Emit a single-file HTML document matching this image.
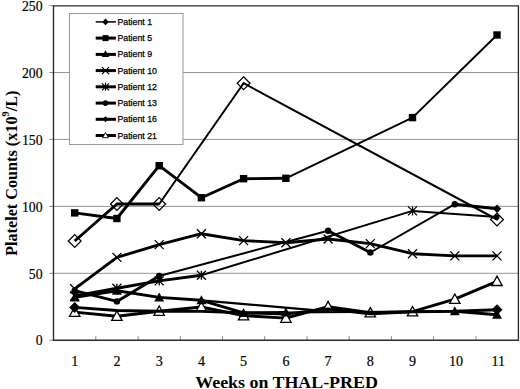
<!DOCTYPE html>
<html><head><meta charset="utf-8"><style>
html,body{margin:0;padding:0;background:#fff;}
svg{display:block;}
.tk{font-family:"Liberation Serif",serif;font-size:15.5px;fill:#000;stroke:#000;stroke-width:0.2px;}
.ttl{font-family:"Liberation Serif",serif;font-size:16px;font-weight:bold;fill:#000;}
.lg{font-family:"Liberation Sans",sans-serif;font-size:8.8px;fill:#000;stroke:#000;stroke-width:0.25px;}
</style></head><body>
<svg width="520" height="389" viewBox="0 0 520 389">
<rect width="520" height="389" fill="#fff"/>
<line x1="53.6" y1="273.3" x2="518.1" y2="273.3" stroke="#959595" stroke-width="1"/>
<line x1="53.6" y1="206.4" x2="518.1" y2="206.4" stroke="#959595" stroke-width="1"/>
<line x1="53.6" y1="139.4" x2="518.1" y2="139.4" stroke="#959595" stroke-width="1"/>
<line x1="53.6" y1="72.5" x2="518.1" y2="72.5" stroke="#959595" stroke-width="1"/>
<line x1="49.3" y1="340.2" x2="53.6" y2="340.2" stroke="#888" stroke-width="1"/>
<line x1="49.3" y1="273.3" x2="53.6" y2="273.3" stroke="#888" stroke-width="1"/>
<line x1="49.3" y1="206.4" x2="53.6" y2="206.4" stroke="#888" stroke-width="1"/>
<line x1="49.3" y1="139.4" x2="53.6" y2="139.4" stroke="#888" stroke-width="1"/>
<line x1="49.3" y1="72.5" x2="53.6" y2="72.5" stroke="#888" stroke-width="1"/>
<line x1="49.3" y1="5.6" x2="53.6" y2="5.6" stroke="#888" stroke-width="1"/>
<line x1="95.8" y1="336.2" x2="95.8" y2="340.2" stroke="#888" stroke-width="1"/>
<line x1="138.1" y1="336.2" x2="138.1" y2="340.2" stroke="#888" stroke-width="1"/>
<line x1="180.3" y1="336.2" x2="180.3" y2="340.2" stroke="#888" stroke-width="1"/>
<line x1="222.5" y1="336.2" x2="222.5" y2="340.2" stroke="#888" stroke-width="1"/>
<line x1="264.7" y1="336.2" x2="264.7" y2="340.2" stroke="#888" stroke-width="1"/>
<line x1="307.0" y1="336.2" x2="307.0" y2="340.2" stroke="#888" stroke-width="1"/>
<line x1="349.2" y1="336.2" x2="349.2" y2="340.2" stroke="#888" stroke-width="1"/>
<line x1="391.4" y1="336.2" x2="391.4" y2="340.2" stroke="#888" stroke-width="1"/>
<line x1="433.6" y1="336.2" x2="433.6" y2="340.2" stroke="#888" stroke-width="1"/>
<line x1="475.9" y1="336.2" x2="475.9" y2="340.2" stroke="#888" stroke-width="1"/>
<path d="M53.5 5.8H518.4V340.2H53.5Z" fill="none" stroke="#2a2a2a" stroke-width="1.35"/>
<rect x="69.5" y="13.5" width="113.5" height="131" fill="#fff" stroke="#999" stroke-width="1"/>
<path d="M74.7 312.1L116.9 316.2L159.2 311.2L201.4 307.0L243.6 315.7L285.9 318.1L328.1 306.6L370.3 312.8L412.5 311.7L454.8 299.2L497.0 281.3" fill="none" stroke="#000" stroke-width="2.9" stroke-linejoin="round"/>
<path d="M74.7 306.9L79.9 316.3L69.5 316.3Z" fill="#fff" stroke="#000" stroke-width="1.3"/>
<path d="M116.9 311.0L122.1 320.4L111.7 320.4Z" fill="#fff" stroke="#000" stroke-width="1.3"/>
<path d="M159.2 306.0L164.4 315.3L154.0 315.3Z" fill="#fff" stroke="#000" stroke-width="1.3"/>
<path d="M201.4 301.8L206.6 311.2L196.2 311.2Z" fill="#fff" stroke="#000" stroke-width="1.3"/>
<path d="M243.6 310.5L248.8 319.9L238.4 319.9Z" fill="#fff" stroke="#000" stroke-width="1.3"/>
<path d="M285.9 312.9L291.1 322.3L280.7 322.3Z" fill="#fff" stroke="#000" stroke-width="1.3"/>
<path d="M328.1 301.4L333.3 310.8L322.9 310.8Z" fill="#fff" stroke="#000" stroke-width="1.3"/>
<path d="M370.3 307.6L375.5 316.9L365.1 316.9Z" fill="#fff" stroke="#000" stroke-width="1.3"/>
<path d="M412.5 306.5L417.7 315.9L407.3 315.9Z" fill="#fff" stroke="#000" stroke-width="1.3"/>
<path d="M454.8 294.0L460.0 303.4L449.6 303.4Z" fill="#fff" stroke="#000" stroke-width="1.3"/>
<path d="M497.0 276.1L502.2 285.5L491.8 285.5Z" fill="#fff" stroke="#000" stroke-width="1.3"/>
<line x1="159.2" y1="204.0" x2="243.6" y2="83.2" stroke="#000" stroke-width="2.0" stroke-linecap="round"/>
<line x1="243.6" y1="83.2" x2="497.0" y2="219.5" stroke="#000" stroke-width="2.0" stroke-linecap="round"/>
<path d="M74.7 241.0L116.9 204.0L159.2 204.0" fill="none" stroke="#000" stroke-width="2.9" stroke-linejoin="round"/>
<line x1="285.9" y1="178.3" x2="412.5" y2="117.6" stroke="#000" stroke-width="2.0" stroke-linecap="round"/>
<line x1="412.5" y1="117.6" x2="497.0" y2="35.0" stroke="#000" stroke-width="2.0" stroke-linecap="round"/>
<path d="M74.7 212.9L116.9 218.5L159.2 165.7L201.4 197.7L243.6 178.7L285.9 178.3" fill="none" stroke="#000" stroke-width="2.9" stroke-linejoin="round"/>
<path d="M74.7 288.8L116.9 257.4L159.2 244.6L201.4 233.7L243.6 240.6L285.9 242.8L328.1 239.0L370.3 243.6L412.5 253.7L454.8 255.9L497.0 255.9" fill="none" stroke="#000" stroke-width="2.9" stroke-linejoin="round"/>
<line x1="159.2" y1="276.0" x2="328.1" y2="230.7" stroke="#000" stroke-width="2.0" stroke-linecap="round"/>
<line x1="370.3" y1="252.5" x2="454.8" y2="204.2" stroke="#000" stroke-width="2.0" stroke-linecap="round"/>
<path d="M74.7 290.7L116.9 301.4L159.2 276.0" fill="none" stroke="#000" stroke-width="2.9" stroke-linejoin="round"/>
<path d="M328.1 230.7L370.3 252.5" fill="none" stroke="#000" stroke-width="2.9" stroke-linejoin="round"/>
<path d="M454.8 204.2L497.0 208.8" fill="none" stroke="#000" stroke-width="2.9" stroke-linejoin="round"/>
<line x1="201.4" y1="275.2" x2="412.5" y2="210.9" stroke="#000" stroke-width="2.0" stroke-linecap="round"/>
<line x1="412.5" y1="210.9" x2="497.0" y2="216.9" stroke="#000" stroke-width="2.0" stroke-linecap="round"/>
<path d="M74.7 296.0L116.9 288.3L159.2 280.9L201.4 275.2" fill="none" stroke="#000" stroke-width="2.9" stroke-linejoin="round"/>
<line x1="285.9" y1="312.4" x2="454.8" y2="311.2" stroke="#000" stroke-width="2.0" stroke-linecap="round"/>
<path d="M74.7 297.4L116.9 290.7L159.2 297.4L201.4 300.3L243.6 312.9L285.9 312.4" fill="none" stroke="#000" stroke-width="2.9" stroke-linejoin="round"/>
<path d="M454.8 311.2L497.0 314.8" fill="none" stroke="#000" stroke-width="2.9" stroke-linejoin="round"/>
<path d="M74.7 307.4L116.9 310.5L159.2 311.3L201.4 311.4L243.6 312.8L285.9 314.1L328.1 309.0L370.3 313.7L412.5 311.7L454.8 311.2L497.0 309.7" fill="none" stroke="#000" stroke-width="2.9" stroke-linejoin="round"/>
<line x1="201.4" y1="300.3" x2="328.1" y2="311.4" stroke="#000" stroke-width="2.2" stroke-linecap="round"/>
<path d="M74.7 234.6L81.1 241.0L74.7 247.4L68.3 241.0Z" fill="none" stroke="#000" stroke-width="1.25"/>
<path d="M116.9 197.6L123.3 204.0L116.9 210.4L110.5 204.0Z" fill="none" stroke="#000" stroke-width="1.25"/>
<path d="M159.2 197.6L165.6 204.0L159.2 210.4L152.8 204.0Z" fill="none" stroke="#000" stroke-width="1.25"/>
<path d="M243.6 76.8L250.0 83.2L243.6 89.6L237.2 83.2Z" fill="none" stroke="#000" stroke-width="1.25"/>
<path d="M497.0 213.1L503.4 219.5L497.0 225.9L490.6 219.5Z" fill="none" stroke="#000" stroke-width="1.25"/>
<rect x="71.0" y="209.2" width="7.4" height="7.4" fill="#000"/>
<rect x="113.2" y="214.8" width="7.4" height="7.4" fill="#000"/>
<rect x="155.5" y="162.0" width="7.4" height="7.4" fill="#000"/>
<rect x="197.7" y="194.0" width="7.4" height="7.4" fill="#000"/>
<rect x="239.9" y="175.0" width="7.4" height="7.4" fill="#000"/>
<rect x="282.2" y="174.6" width="7.4" height="7.4" fill="#000"/>
<rect x="408.8" y="113.9" width="7.4" height="7.4" fill="#000"/>
<rect x="493.3" y="31.3" width="7.4" height="7.4" fill="#000"/>
<path d="M70.2 284.3L79.2 293.3M79.2 284.3L70.2 293.3" stroke="#000" stroke-width="1.3"/>
<path d="M112.4 252.9L121.4 261.9M121.4 252.9L112.4 261.9" stroke="#000" stroke-width="1.3"/>
<path d="M154.7 240.1L163.7 249.1M163.7 240.1L154.7 249.1" stroke="#000" stroke-width="1.3"/>
<path d="M196.9 229.2L205.9 238.2M205.9 229.2L196.9 238.2" stroke="#000" stroke-width="1.3"/>
<path d="M239.1 236.1L248.1 245.1M248.1 236.1L239.1 245.1" stroke="#000" stroke-width="1.3"/>
<path d="M281.4 238.3L290.4 247.3M290.4 238.3L281.4 247.3" stroke="#000" stroke-width="1.3"/>
<path d="M323.6 234.5L332.6 243.5M332.6 234.5L323.6 243.5" stroke="#000" stroke-width="1.3"/>
<path d="M365.8 239.1L374.8 248.1M374.8 239.1L365.8 248.1" stroke="#000" stroke-width="1.3"/>
<path d="M408.0 249.2L417.0 258.2M417.0 249.2L408.0 258.2" stroke="#000" stroke-width="1.3"/>
<path d="M450.3 251.4L459.3 260.4M459.3 251.4L450.3 260.4" stroke="#000" stroke-width="1.3"/>
<path d="M492.5 251.4L501.5 260.4M501.5 251.4L492.5 260.4" stroke="#000" stroke-width="1.3"/>
<circle cx="74.7" cy="290.7" r="3.2" fill="#000"/>
<circle cx="116.9" cy="301.4" r="3.2" fill="#000"/>
<circle cx="159.2" cy="276.0" r="3.2" fill="#000"/>
<circle cx="328.1" cy="230.7" r="3.2" fill="#000"/>
<circle cx="370.3" cy="252.5" r="3.2" fill="#000"/>
<circle cx="454.8" cy="204.2" r="3.2" fill="#000"/>
<path d="M497.0 204.6L501.2 208.8L497.0 213.0L492.8 208.8Z" fill="#000"/>
<path d="M70.2 291.5L79.2 300.5M79.2 291.5L70.2 300.5M74.7 291.5L74.7 300.5" stroke="#000" stroke-width="1.3"/>
<path d="M112.4 283.8L121.4 292.8M121.4 283.8L112.4 292.8M116.9 283.8L116.9 292.8" stroke="#000" stroke-width="1.3"/>
<path d="M154.7 276.4L163.7 285.4M163.7 276.4L154.7 285.4M159.2 276.4L159.2 285.4" stroke="#000" stroke-width="1.3"/>
<path d="M196.9 270.7L205.9 279.7M205.9 270.7L196.9 279.7M201.4 270.7L201.4 279.7" stroke="#000" stroke-width="1.3"/>
<path d="M408.0 206.4L417.0 215.4M417.0 206.4L408.0 215.4M412.5 206.4L412.5 215.4" stroke="#000" stroke-width="1.3"/>
<circle cx="497.0" cy="216.9" r="2.6" fill="#000"/>
<path d="M74.7 292.4L79.7 301.4L69.7 301.4Z" fill="#000"/>
<path d="M116.9 285.7L121.9 294.7L111.9 294.7Z" fill="#000"/>
<path d="M159.2 292.4L164.2 301.4L154.2 301.4Z" fill="#000"/>
<path d="M201.4 295.3L206.4 304.3L196.4 304.3Z" fill="#000"/>
<path d="M243.6 307.9L248.6 316.9L238.6 316.9Z" fill="#000"/>
<path d="M285.9 307.4L290.9 316.4L280.9 316.4Z" fill="#000"/>
<path d="M454.8 306.2L459.8 315.2L449.8 315.2Z" fill="#000"/>
<path d="M497.0 309.8L502.0 318.8L492.0 318.8Z" fill="#000"/>
<path d="M74.7 301.9L80.2 307.4L74.7 312.9L69.2 307.4Z" fill="#000"/>









<path d="M497.0 304.2L502.5 309.7L497.0 315.2L491.5 309.7Z" fill="#000"/>
<line x1="95.7" y1="21.9" x2="115.9" y2="21.9" stroke="#000" stroke-width="1.5"/>
<path d="M105.5 18.6L108.8 21.9L105.5 25.2L102.2 21.9Z"/>
<text x="117.4" y="24.9" class="lg">Patient 1</text>
<line x1="95.7" y1="38.1" x2="115.9" y2="38.1" stroke="#000" stroke-width="3"/>
<rect x="102.5" y="35.1" width="6" height="6"/>
<text x="117.4" y="41.1" class="lg">Patient 5</text>
<line x1="95.7" y1="54.4" x2="115.9" y2="54.4" stroke="#000" stroke-width="3"/>
<path d="M105.5 50.2L109.3 56.9L101.7 56.9Z"/>
<text x="117.4" y="57.4" class="lg">Patient 9</text>
<line x1="95.7" y1="70.6" x2="115.9" y2="70.6" stroke="#000" stroke-width="3"/>
<path d="M102.0 67.1L109.0 74.1M109.0 67.1L102.0 74.1" stroke="#000" stroke-width="1.2"/>
<text x="117.4" y="73.6" class="lg">Patient 10</text>
<line x1="95.7" y1="86.8" x2="115.9" y2="86.8" stroke="#000" stroke-width="3"/>
<path d="M102.0 83.3L109.0 90.3M109.0 83.3L102.0 90.3M105.5 82.8L105.5 90.8" stroke="#000" stroke-width="1.2"/>
<text x="117.4" y="89.8" class="lg">Patient 12</text>
<line x1="95.7" y1="103.1" x2="115.9" y2="103.1" stroke="#000" stroke-width="3"/>
<circle cx="105.5" cy="103.1" r="2.8"/>
<text x="117.4" y="106.1" class="lg">Patient 13</text>
<line x1="95.7" y1="119.3" x2="115.9" y2="119.3" stroke="#000" stroke-width="3"/>
<path d="M105.5 116.3L108.5 119.3L105.5 122.3L102.5 119.3Z"/>
<text x="117.4" y="122.3" class="lg">Patient 16</text>
<line x1="95.7" y1="135.5" x2="115.9" y2="135.5" stroke="#000" stroke-width="3"/>
<path d="M105.5 132.5L108.5 137.7L102.5 137.7Z" fill="#fff" stroke="#000" stroke-width="0.9"/>
<text x="117.4" y="138.5" class="lg">Patient 21</text>
<text transform="translate(42.6 345.4) scale(0.89 1)" class="tk" text-anchor="end">0</text>
<text transform="translate(42.6 278.5) scale(0.89 1)" class="tk" text-anchor="end">50</text>
<text transform="translate(42.6 211.6) scale(0.89 1)" class="tk" text-anchor="end">100</text>
<text transform="translate(42.6 144.6) scale(0.89 1)" class="tk" text-anchor="end">150</text>
<text transform="translate(42.6 77.7) scale(0.89 1)" class="tk" text-anchor="end">200</text>
<text transform="translate(42.6 10.8) scale(0.89 1)" class="tk" text-anchor="end">250</text>
<text transform="translate(74.7 366.2) scale(0.91 1)" class="tk" text-anchor="middle">1</text>
<text transform="translate(116.9 366.2) scale(0.91 1)" class="tk" text-anchor="middle">2</text>
<text transform="translate(159.2 366.2) scale(0.91 1)" class="tk" text-anchor="middle">3</text>
<text transform="translate(201.4 366.2) scale(0.91 1)" class="tk" text-anchor="middle">4</text>
<text transform="translate(243.6 366.2) scale(0.91 1)" class="tk" text-anchor="middle">5</text>
<text transform="translate(285.9 366.2) scale(0.91 1)" class="tk" text-anchor="middle">6</text>
<text transform="translate(328.1 366.2) scale(0.91 1)" class="tk" text-anchor="middle">7</text>
<text transform="translate(370.3 366.2) scale(0.91 1)" class="tk" text-anchor="middle">8</text>
<text transform="translate(412.5 366.2) scale(0.91 1)" class="tk" text-anchor="middle">9</text>
<text transform="translate(456.0 366.2) scale(0.91 1)" class="tk" text-anchor="middle">10</text>
<text transform="translate(498.2 366.2) scale(0.91 1)" class="tk" text-anchor="middle">11</text>
<text x="195.3" y="387.6" class="ttl" font-size="17.6" textLength="182.5" lengthAdjust="spacingAndGlyphs">Weeks on THAL-PRED</text>
<text id="yt" transform="translate(16.5 255.9) rotate(-90) scale(1.013 1)" class="ttl" font-size="15.5">Platelet Counts (x10<tspan dy="-8" font-size="10">9</tspan><tspan dy="8">/L)</tspan></text>
</svg>
</body></html>
